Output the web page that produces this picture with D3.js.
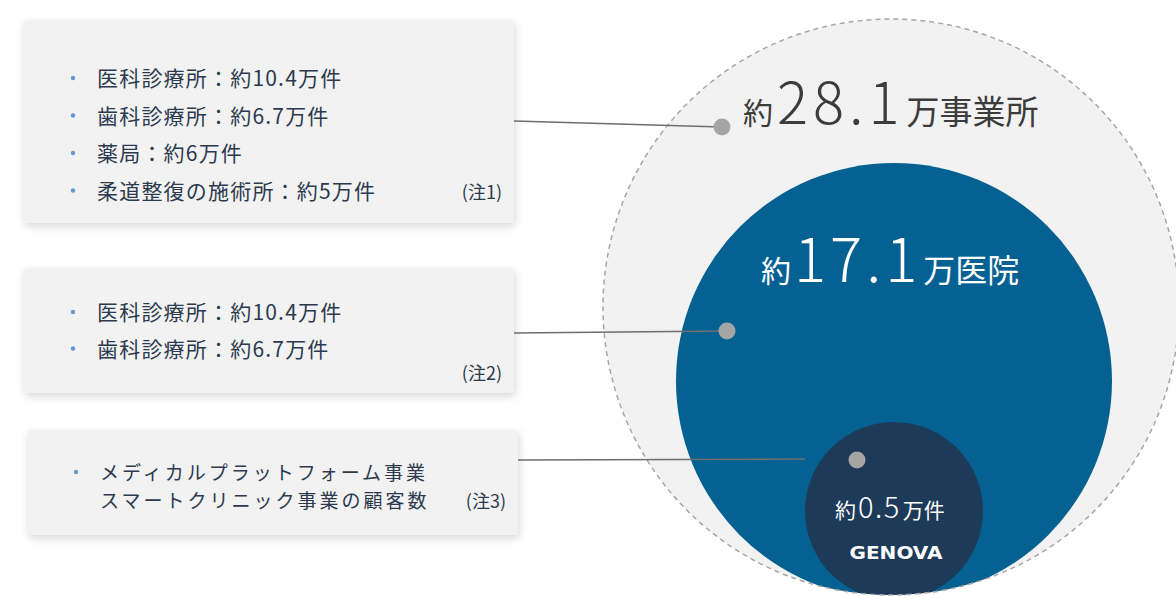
<!DOCTYPE html>
<html>
<head>
<meta charset="utf-8">
<script src="https://cdn.jsdelivr.net/npm/d3@7"></script>
<style>
  body { margin: 0; background: #fff; }
  svg { display: block; font-family: "Noto Sans CJK JP", "Noto Sans", sans-serif; }
</style>
</head>
<body>
<div id="chart"></div>
<script>
// Data
const boxItems = [
    ["医科診療所：約10.4万件", "歯科診療所：約6.7万件", "薬局：約6万件", "柔道整復の施術所：約5万件"],
    ["医科診療所：約10.4万件", "歯科診療所：約6.7万件"],
    ["メディカルプラットフォーム事業\nスマートクリニック事業の顧客数"]
];
const boxNotes = ["(注1)", "(注2)", "(注3)"];
const circleValues = ["28.1", "17.1", "0.5"];
const circlePrefix = ["約", "約", "約"];
const circleUnits = ["万事業所", "万医院", "万件"];
const brand = "GENOVA";

const width = 1176, height = 596;

const svg = d3.select("#chart")
    .append("svg")
    .attr("width", width)
    .attr("height", height);

const defs = svg.append("defs");
defs.append("filter")
    .attr("id", "shadow")
    .attr("x", "-10%").attr("y", "-20%")
    .attr("width", "120%").attr("height", "140%")
    .append("feDropShadow")
    .attr("dx", 1).attr("dy", 3)
    .attr("stdDeviation", 4)
    .attr("flood-color", "#000")
    .attr("flood-opacity", 0.16);

// Circles layout
const outer = { cx: 891, cy: 307, r: 288 };
const mid = { cx: 894, cy: 381, r: 218 };
const inner = { cx: 894, cy: 511, r: 89 };

defs.append("clipPath").attr("id", "outerClip")
    .append("circle")
    .attr("cx", outer.cx).attr("cy", outer.cy).attr("r", outer.r);

// Boxes
const boxes = [
    { x: 24, y: 20, w: 490, h: 203, lineY: 86, step: 37.5, wrap: 0, noteY: 199, size: 21, ls: 1.2 },
    { x: 24, y: 268, w: 490, h: 125, lineY: 320, step: 36.5, wrap: 0, noteY: 380, size: 21, ls: 1.2 },
    { x: 28, y: 430, w: 490, h: 105, lineY: 480, step: 0, wrap: 28, noteY: 508, size: 19, ls: 3 }
];

const boxG = svg.selectAll(".box")
    .data(boxes)
    .join("g")
    .attr("class", "box");

boxG.append("rect")
    .attr("x", d => d.x)
    .attr("y", d => d.y)
    .attr("width", d => d.w)
    .attr("height", d => d.h)
    .attr("rx", 3)
    .attr("fill", "#f2f2f2")
    .attr("filter", "url(#shadow)");

boxG.each(function(b, i) {
    const g = d3.select(this);
    const textX = i === 2 ? 100 : 97;
    boxItems[i].forEach((item, j) => {
        const y0 = b.lineY + j * b.step;
        g.append("circle")
            .attr("cx", textX - 24)
            .attr("cy", y0 - 8)
            .attr("r", 2.2)
            .attr("fill", "#5b9bd5");
        // one text per item, wrapped lines as tspans
        const t = g.append("text")
            .attr("x", textX)
            .attr("y", y0)
            .attr("fill", "#2b3a4e")
            .attr("font-size", b.size)
            .attr("letter-spacing", b.ls);
        item.split("\n").forEach((ln, k) => {
            t.append("tspan")
                .attr("x", textX)
                .attr("dy", k === 0 ? 0 : b.wrap)
                .text(ln);
        });
    });
    g.append("text")
        .attr("x", b.x + b.w - 12)
        .attr("y", b.noteY)
        .attr("text-anchor", "end")
        .attr("fill", "#2b3a4e")
        .attr("font-size", 18)
        .text(boxNotes[i]);
});

// Circles
svg.append("circle")
    .attr("cx", outer.cx).attr("cy", outer.cy).attr("r", outer.r)
    .attr("fill", "#f2f2f2");

const clipped = svg.append("g").attr("clip-path", "url(#outerClip)");
clipped.append("circle")
    .attr("cx", mid.cx).attr("cy", mid.cy).attr("r", mid.r)
    .attr("fill", "#046192");
clipped.append("circle")
    .attr("cx", inner.cx).attr("cy", inner.cy).attr("r", inner.r)
    .attr("fill", "#1e3a59");

svg.append("circle")
    .attr("cx", outer.cx).attr("cy", outer.cy).attr("r", outer.r)
    .attr("fill", "none")
    .attr("stroke", "#a6a6a6")
    .attr("stroke-width", 1.5)
    .attr("stroke-dasharray", "5,4");

// Leader lines and dots
const leaders = [
    { x1: 514, y1: 121, x2: 722, y2: 127, dotX: 722, dotY: 127 },
    { x1: 514, y1: 333, x2: 727, y2: 331, dotX: 727, dotY: 331 },
    { x1: 518, y1: 460, x2: inner.cx - inner.r, y2: 459, dotX: 857, dotY: 460 }
];
svg.selectAll(".leader")
    .data(leaders)
    .join("line")
    .attr("class", "leader")
    .attr("x1", d => d.x1).attr("y1", d => d.y1)
    .attr("x2", d => d.x2).attr("y2", d => d.y2)
    .attr("stroke", "#6e6e6e")
    .attr("stroke-width", 1.5);
svg.selectAll(".dot")
    .data(leaders)
    .join("circle")
    .attr("class", "dot")
    .attr("cx", d => d.dotX).attr("cy", d => d.dotY)
    .attr("r", 8.5)
    .attr("fill", "#a5a5a5");

// Circle labels
const labels = [
    { x: 743, y: 124, fill: "#3c3c3c", s1: 30, s2: 58, s3: 33, ls: 5, gap: 4 },
    { x: 761, y: 282, fill: "#ffffff", s1: 30, s2: 60, s3: 32, ls: 4, gap: 3 },
    { x: 835, y: 518, fill: "#ffffff", s1: 21, s2: 29, s3: 21, ls: 1.5, gap: 2 }
];
labels.forEach((l, i) => {
    const t = svg.append("text")
        .attr("x", l.x).attr("y", l.y)
        .attr("fill", l.fill);
    t.append("tspan").attr("font-size", l.s1).text(circlePrefix[i]);
    t.append("tspan").attr("font-size", l.s2).attr("dx", l.gap)
        .attr("font-weight", 300)
        .attr("letter-spacing", l.ls).text(circleValues[i]);
    t.append("tspan").attr("font-size", l.s3).attr("dx", 2).text(circleUnits[i]);
});

svg.append("text")
    .attr("x", inner.cx + 2).attr("y", 559)
    .attr("text-anchor", "middle")
    .attr("fill", "#ffffff")
    .attr("font-family", "DejaVu Sans")
    .attr("font-weight", "bold")
    .attr("font-size", 18)
    .attr("textLength", 93)
    .attr("lengthAdjust", "spacingAndGlyphs")
    .text(brand);
</script>
</body>
</html>
